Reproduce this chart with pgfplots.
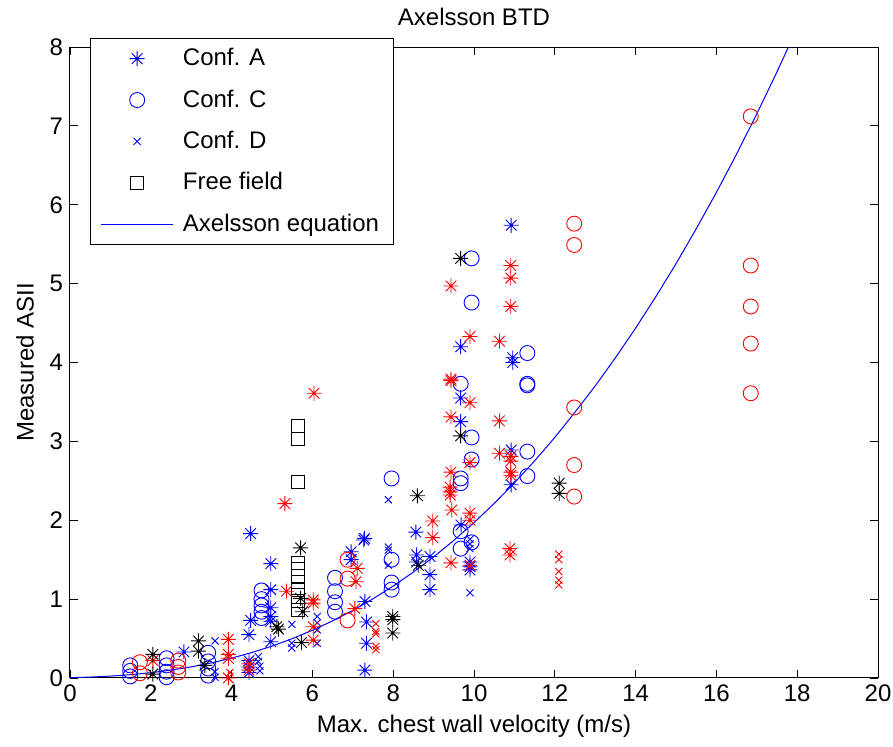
\documentclass[border=0pt]{standalone}
\usepackage{fontspec}
\setmainfont{Liberation Sans}
\usepackage{pgfplots}
\pgfplotsset{compat=1.18}
\pgfdeclareplotmark{mstar}{%
 \pgfpathmoveto{\pgfqpoint{-\pgfplotmarksize}{0pt}}\pgfpathlineto{\pgfqpoint{\pgfplotmarksize}{0pt}}%
 \pgfpathmoveto{\pgfqpoint{0pt}{-\pgfplotmarksize}}\pgfpathlineto{\pgfqpoint{0pt}{\pgfplotmarksize}}%
 \pgfpathmoveto{\pgfqpoint{-0.7071\pgfplotmarksize}{-0.7071\pgfplotmarksize}}\pgfpathlineto{\pgfqpoint{0.7071\pgfplotmarksize}{0.7071\pgfplotmarksize}}%
 \pgfpathmoveto{\pgfqpoint{-0.7071\pgfplotmarksize}{0.7071\pgfplotmarksize}}\pgfpathlineto{\pgfqpoint{0.7071\pgfplotmarksize}{-0.7071\pgfplotmarksize}}%
 \pgfusepathqstroke}
\begin{document}
\begin{tikzpicture}
\begin{axis}[name=ax, scale only axis, width=404pt, height=315.5pt,
 xmin=0, xmax=20, ymin=0, ymax=8,
 xtick={0,2,...,20}, ytick={0,1,...,8},
 tick align=inside, major tick length=4pt,
 tick style={black, line width=0.4pt}, axis line style={line width=0.5pt},
 font=\fontsize{12}{14}\selectfont,
 ticklabel style={font=\fontsize{12}{14}\selectfont},
 /pgf/number format/assume math mode=true,
 every axis title shift=0pt,
 title={Axelsson BTD},
 title style={at={(axis description cs:0.5,1.0475)}, anchor=center},
 xlabel={Max. chest wall velocity (m/s)},
 xlabel style={at={(axis description cs:0.5,-0.076)}, anchor=center},
 ylabel={Measured ASII},
 ylabel style={at={(axis description cs:-0.0557,0.5)}, anchor=center},
 legend cell align=left,
 legend style={at={(axis description cs:0.0248,1.0143)}, anchor=north west,
   draw=black, line width=0.5pt, fill=white, inner xsep=5pt, inner ysep=3pt,
   row sep=6.5pt, font=\fontsize{12}{14}\selectfont},
 legend image code/.code={\draw[mark repeat=2,mark phase=2,#1] plot coordinates {(0cm,0cm) (0.635cm,0cm) (1.27cm,0cm)}; \path (1.36cm,0cm);},
]
% Conf. A (blue stars)
\addplot[only marks, mark=mstar, mark size=3.75pt, blue, line width=0.45pt] coordinates {
(4.47,1.83)(4.97,1.45)(4.97,1.12)(4.97,0.89)(4.97,0.78)(4.97,0.72)(4.97,0.46)
(4.47,0.73)(4.43,0.55)(2.82,0.33)(4.43,0.22)(4.43,0.14)(4.43,0.07)
(7.29,1.77)(7.27,1.75)(6.96,1.60)(6.96,1.50)(7.30,0.97)(7.34,0.71)(7.34,0.44)(7.30,0.10)
(8.56,1.85)(8.58,1.56)(8.58,1.47)(8.91,1.54)(8.91,1.31)(8.91,1.12)
(9.68,1.94)(9.9,1.47)(9.9,1.41)(9.9,1.37)
(9.67,4.20)(9.67,3.55)(9.67,3.25)(10.96,4.06)(10.96,4.00)(10.92,5.74)(10.92,2.89)(10.92,2.45)
};
\addlegendentry{Conf. A}
% Conf. C (blue circles)
\addplot[only marks, mark=o, mark size=3.75pt, blue, line width=0.45pt] coordinates {
(1.49,0.16)(1.49,0.09)(1.49,0.02)(2.39,0.25)(2.39,0.16)(2.39,0.08)(2.39,0.01)
(3.42,0.32)(3.42,0.21)(3.42,0.12)(3.42,0.03)
(4.74,1.11)(4.74,1.00)(4.74,0.92)(4.74,0.84)(4.74,0.76)
(6.56,1.27)(6.56,1.10)(6.56,0.96)(6.56,0.84)
(7.96,2.53)(7.96,1.50)(7.96,1.21)(7.96,1.12)
(9.67,1.86)(9.67,1.64)(9.67,2.53)(9.67,2.47)(9.67,3.73)
(9.94,5.32)(9.94,4.76)(9.94,3.05)(9.94,2.77)(9.94,1.72)
(11.32,4.12)(11.32,3.73)(11.32,3.71)(11.32,2.87)(11.32,2.56)
};
\addlegendentry{Conf. C}
% Conf. D (blue x)
\addplot[only marks, mark=x, mark size=2.5pt, blue, line width=0.45pt] coordinates {
(3.59,0.47)(4.66,0.27)(4.66,0.21)(4.70,0.15)(4.70,0.09)(3.59,0.08)(3.59,0.01)
(5.49,0.68)(5.49,0.44)(5.49,0.38)(6.12,0.78)(6.12,0.70)(6.12,0.61)(6.12,0.44)
(7.88,2.26)(7.88,1.66)(7.88,1.62)(7.88,1.43)
(9.9,1.76)(9.9,1.70)(9.9,1.64)(9.9,1.08)
};
\addlegendentry{Conf. D}
% Free field (black squares)
\addplot[only marks, mark=square, mark size=3.25pt, black, line width=0.45pt] coordinates {
(5.63,3.20)(5.63,3.03)(5.63,2.49)
(5.63,1.46)(5.63,1.38)(5.63,1.30)(5.63,1.22)(5.63,1.12)(5.63,0.98)(5.63,0.86)
};
\addlegendentry{Free field}
% Axelsson equation
\addplot[blue, line width=0.5pt, mark=none] coordinates {
(0,0.0041)(0.5,0.0114)(1,0.0237)(1.5,0.0420)(2,0.0671)(2.5,0.0999)(3,0.1412)(3.5,0.1916)
(4,0.2519)(4.5,0.3227)(5,0.4047)(5.5,0.4985)(6,0.6048)(6.5,0.7242)(7,0.8569)(7.5,1.0039)
(8,1.1656)(8.5,1.3425)(9,1.5351)(9.5,1.7440)(10,1.97)(10.5,2.2130)(11,2.4734)(11.5,2.7527)
(12,3.0502)(12.5,3.37)(13,3.7029)(13.5,4.0591)(14,4.4359)(14.5,4.8336)(15,5.2524)
(15.5,5.6946)(16,6.1570)(16.5,6.6428)(17,7.1526)(17.5,7.685)(18,8.243)
};
\addlegendentry{Axelsson equation}
% red stars
\addplot[forget plot, only marks, mark=mstar, mark size=3.75pt, red, line width=0.45pt] coordinates {
(3.92,0.49)(3.92,0.30)(3.92,0.25)(3.92,0.0)(4.43,0.18)(4.43,0.10)(2.05,0.22)
(5.36,1.10)(5.32,2.21)(6.04,3.61)(6.02,0.99)(6.02,0.95)(6.02,0.65)(6.02,0.48)
(7.11,1.39)(7.08,1.22)(7.05,0.88)(8.98,1.99)(8.98,1.78)
(9.41,2.42)(9.41,2.36)(9.41,2.32)(9.45,2.13)(9.43,1.46)(9.43,2.61)(9.43,3.31)(9.43,3.79)(9.43,3.77)(9.43,4.97)
(9.9,4.33)(9.9,3.49)(9.9,2.73)(9.9,2.09)(9.9,2.00)(9.9,1.43)
(10.63,4.27)(10.63,3.26)(10.63,2.85)
(10.91,5.23)(10.91,5.07)(10.91,4.71)(10.91,2.81)(10.91,2.75)(10.91,2.61)(10.91,2.57)(10.89,1.64)(10.89,1.56)
};
% black stars
\addplot[forget plot, only marks, mark=mstar, mark size=3.75pt, black, line width=0.45pt] coordinates {
(2.05,0.30)(2.05,0.05)(3.18,0.47)(3.18,0.34)(3.34,0.16)(5.12,0.65)(5.16,0.62)
(5.71,1.65)(5.71,1.01)(5.76,0.84)(5.73,0.45)(7.99,0.78)(7.99,0.74)(7.99,0.57)
(8.60,2.31)(8.62,1.43)(9.67,5.32)(9.67,3.07)(12.11,2.47)(12.11,2.34)
};
% red circles
\addplot[forget plot, only marks, mark=o, mark size=3.75pt, red, line width=0.45pt] coordinates {
(1.73,0.20)(1.73,0.06)(2.68,0.22)(2.68,0.14)(2.68,0.07)(6.87,1.50)(6.87,1.26)(6.87,0.73)
(12.48,5.76)(12.48,5.49)(12.48,3.43)(12.48,2.70)(12.48,2.30)
(16.85,7.12)(16.85,5.23)(16.85,4.71)(16.85,4.24)(16.85,3.61)
};
% red x
\addplot[forget plot, only marks, mark=x, mark size=2.5pt, red, line width=0.45pt] coordinates {
(7.57,0.69)(7.57,0.59)(7.57,0.56)(7.57,0.40)(7.57,0.36)
(12.1,1.57)(12.1,1.50)(12.1,1.35)(12.1,1.24)(12.1,1.18)(3.96,0.07)
};
\end{axis}
\pgfresetboundingbox
\path[use as bounding box] ([shift={(-35pt,-34.5pt)}]ax.south west) rectangle ([shift={(411.5pt,339pt)}]ax.south west);
\end{tikzpicture}
\end{document}
